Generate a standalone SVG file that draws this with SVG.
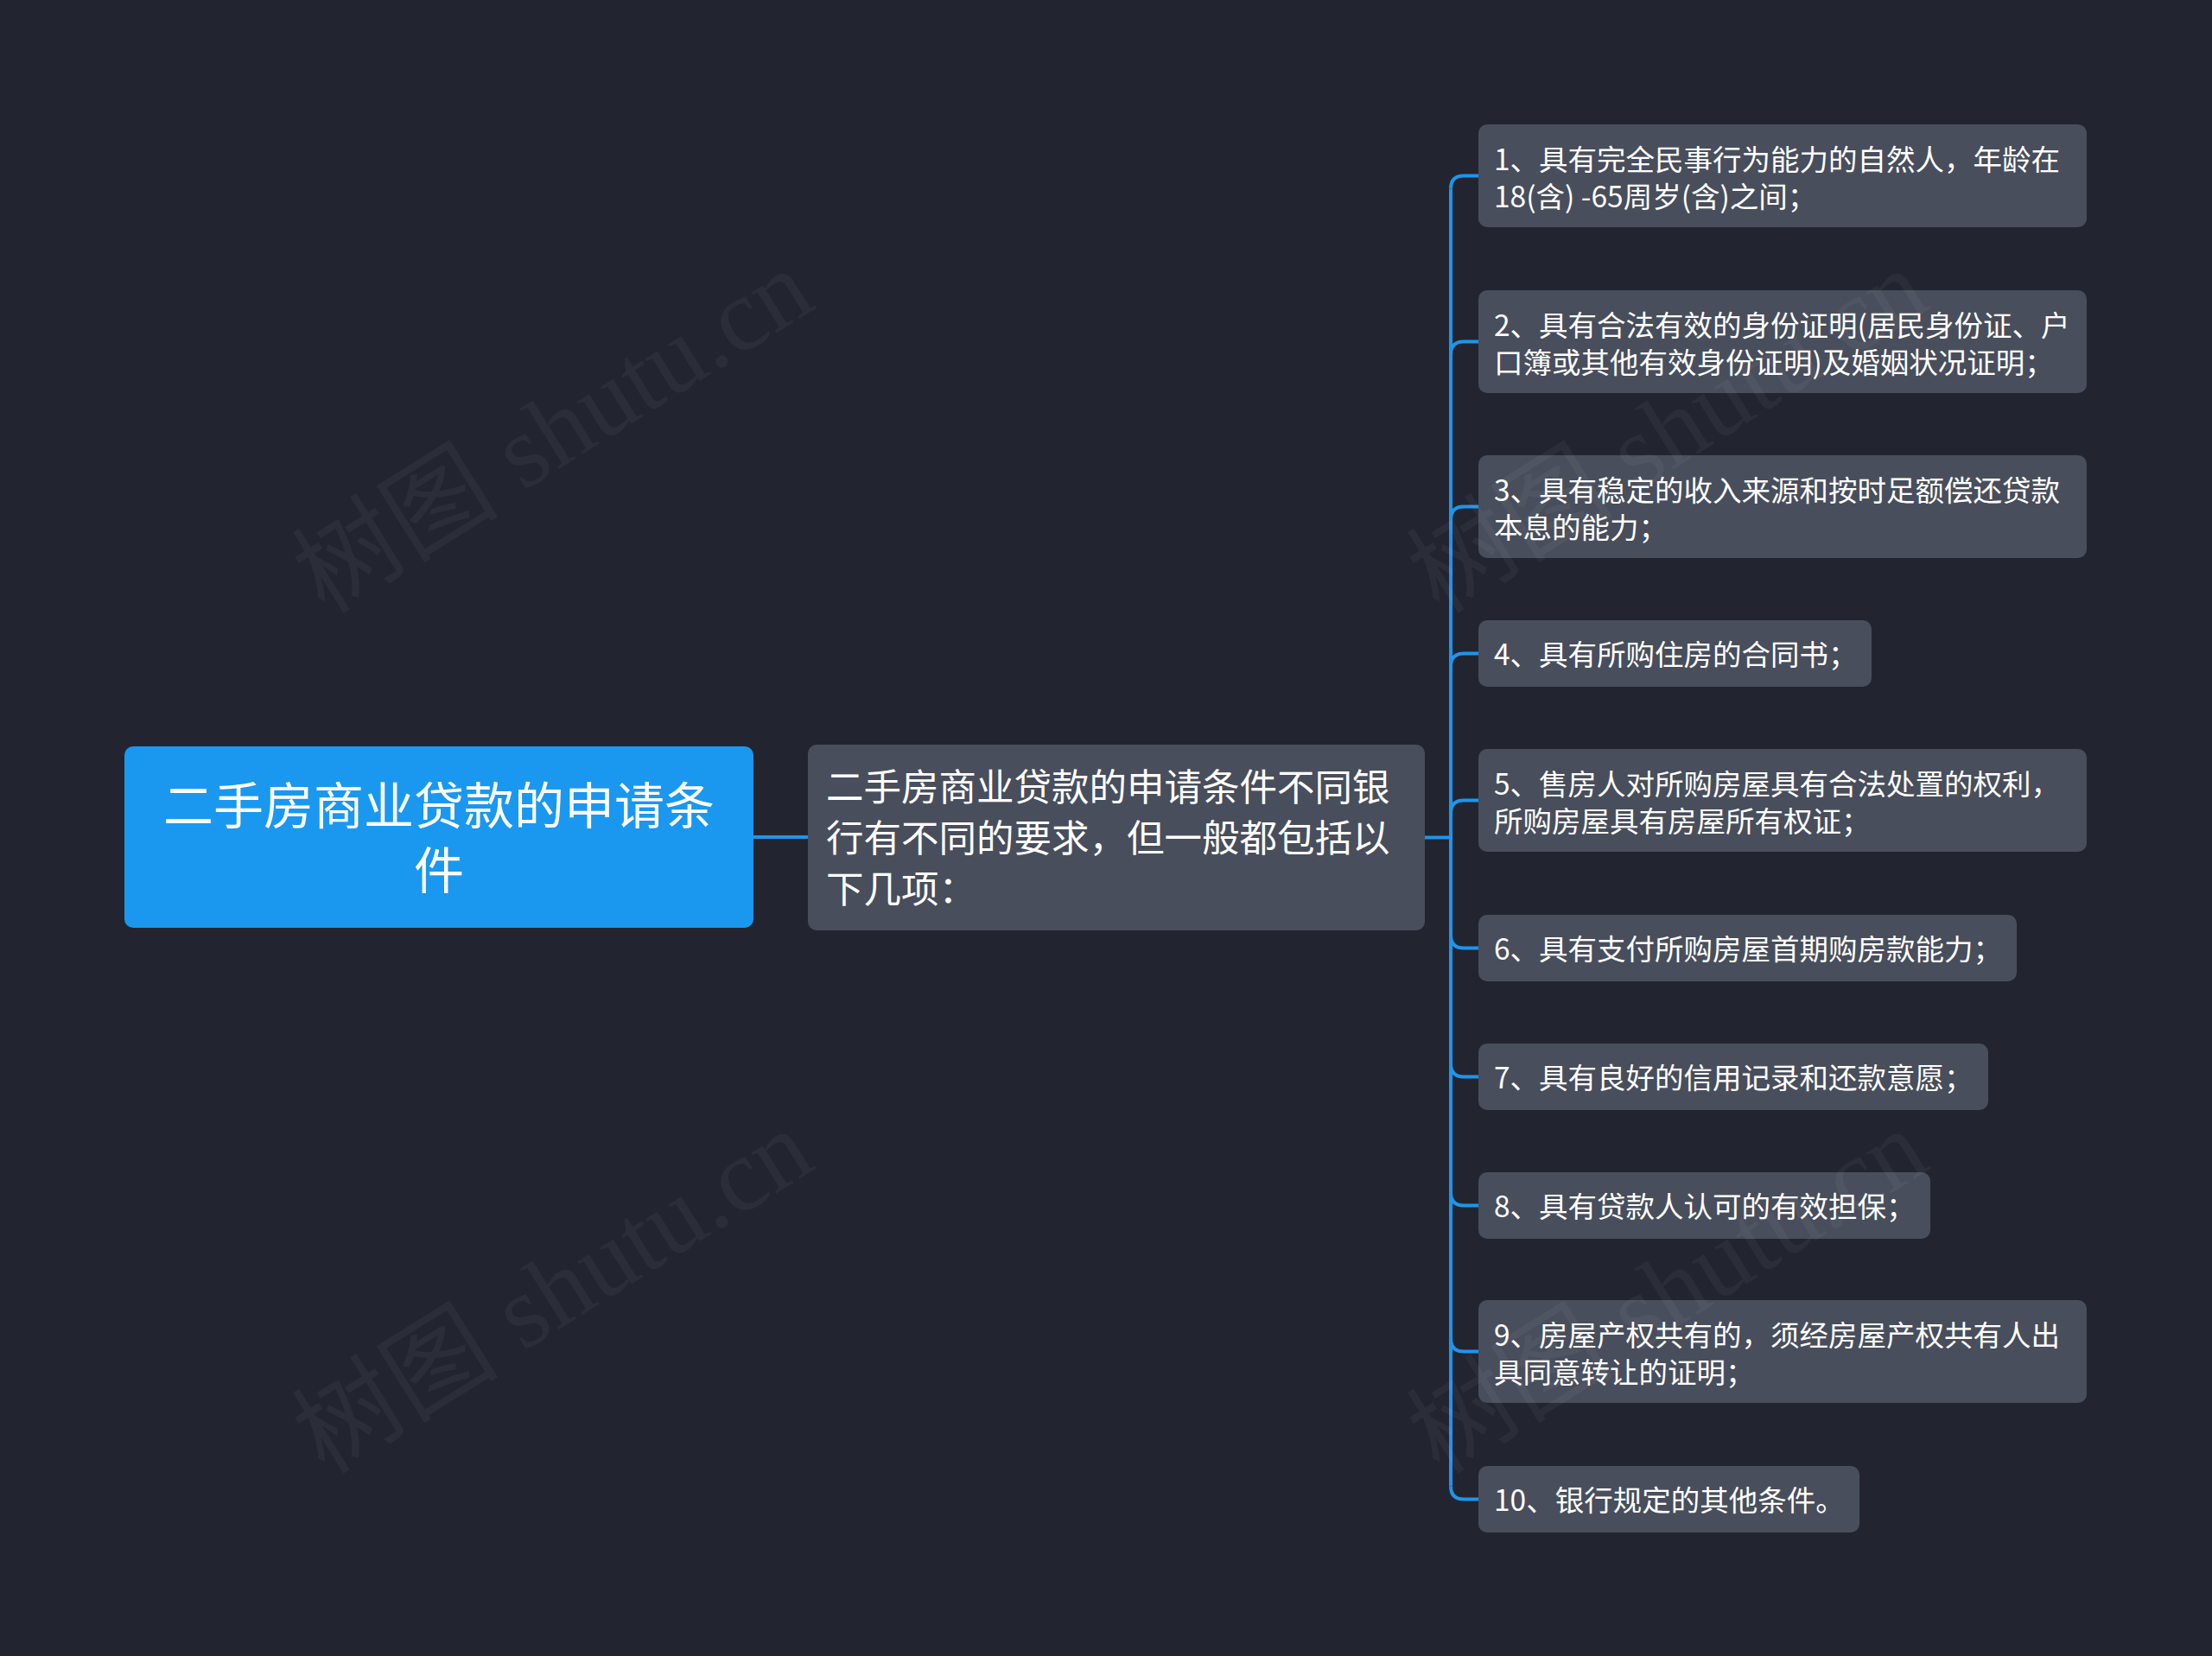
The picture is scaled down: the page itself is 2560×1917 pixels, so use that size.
<svg xmlns="http://www.w3.org/2000/svg" width="2560" height="1917" viewBox="0 0 2560 1917">
<style>
.bg{fill:#222530}
.root{fill:#1a98ef}
.sub{fill:#484e5c}
.t{font-family:"Noto Sans CJK SC","Noto Sans",sans-serif;fill:#ffffff}
.rt{font-size:58px;text-anchor:middle}
.mt{font-size:43.5px}
.lt{font-size:33.5px}
.ln{fill:none;stroke:#1f95eb;stroke-width:4}
.wm{font-family:"Liberation Serif","Noto Sans CJK SC",serif;font-size:120px;fill:#ffffff;fill-opacity:0.045}
</style>
<rect class="bg" x="0" y="0" width="2560" height="1917"/>
<g id="connectors">
<path class="ln" d="M872,969 H935"/>
<path class="ln" d="M1649,969.5 H1679"/>
<path class="ln" d="M1679,218.5 V1720.5"/>
<path class="ln" d="M1679,218.5 Q1679,203.5 1694,203.5 H1711"/>
<path class="ln" d="M1679,410.5 Q1679,395.5 1694,395.5 H1711"/>
<path class="ln" d="M1679,601.5 Q1679,586.5 1694,586.5 H1711"/>
<path class="ln" d="M1679,771.5 Q1679,756.5 1694,756.5 H1711"/>
<path class="ln" d="M1679,941.5 Q1679,926.5 1694,926.5 H1711"/>
<path class="ln" d="M1679,1082.5 Q1679,1097.5 1694,1097.5 H1711"/>
<path class="ln" d="M1679,1231.5 Q1679,1246.5 1694,1246.5 H1711"/>
<path class="ln" d="M1679,1380.5 Q1679,1395.5 1694,1395.5 H1711"/>
<path class="ln" d="M1679,1549.5 Q1679,1564.5 1694,1564.5 H1711"/>
<path class="ln" d="M1679,1720.5 Q1679,1735.5 1694,1735.5 H1711"/>
</g>
<g id="root">
<rect class="root" x="144" y="864" width="728" height="210" rx="10"/>
<text class="t rt" x="508" y="953.5">二手房商业贷款的申请条</text>
<text class="t rt" x="508" y="1028.5">件</text>
</g>
<g id="middle">
<rect class="sub" x="935" y="862" width="714" height="215" rx="10"/>
<text class="t mt" x="956" y="927">二手房商业贷款的申请条件不同银</text>
<text class="t mt" x="956" y="986">行有不同的要求，但一般都包括以</text>
<text class="t mt" x="956" y="1045">下几项：</text>
</g>
<g id="leaf1">
<rect class="sub" x="1711" y="144" width="704" height="119" rx="10"/>
<text class="t lt" x="1729" y="197">1、具有完全民事行为能力的自然人，年龄在</text>
<text class="t lt" x="1729" y="240">18(含) -65周岁(含)之间；</text>
</g>
<g id="leaf2">
<rect class="sub" x="1711" y="336" width="704" height="119" rx="10"/>
<text class="t lt" x="1729" y="389">2、具有合法有效的身份证明(居民身份证、户</text>
<text class="t lt" x="1729" y="432">口簿或其他有效身份证明)及婚姻状况证明；</text>
</g>
<g id="leaf3">
<rect class="sub" x="1711" y="527" width="704" height="119" rx="10"/>
<text class="t lt" x="1729" y="580">3、具有稳定的收入来源和按时足额偿还贷款</text>
<text class="t lt" x="1729" y="623">本息的能力；</text>
</g>
<g id="leaf4">
<rect class="sub" x="1711" y="718" width="455" height="77" rx="10"/>
<text class="t lt" x="1729" y="769.5">4、具有所购住房的合同书；</text>
</g>
<g id="leaf5">
<rect class="sub" x="1711" y="867" width="704" height="119" rx="10"/>
<text class="t lt" x="1729" y="920">5、售房人对所购房屋具有合法处置的权利，</text>
<text class="t lt" x="1729" y="963">所购房屋具有房屋所有权证；</text>
</g>
<g id="leaf6">
<rect class="sub" x="1711" y="1059" width="623" height="77" rx="10"/>
<text class="t lt" x="1729" y="1110.5">6、具有支付所购房屋首期购房款能力；</text>
</g>
<g id="leaf7">
<rect class="sub" x="1711" y="1208" width="590" height="77" rx="10"/>
<text class="t lt" x="1729" y="1259.5">7、具有良好的信用记录和还款意愿；</text>
</g>
<g id="leaf8">
<rect class="sub" x="1711" y="1357" width="523" height="77" rx="10"/>
<text class="t lt" x="1729" y="1408.5">8、具有贷款人认可的有效担保；</text>
</g>
<g id="leaf9">
<rect class="sub" x="1711" y="1505" width="704" height="119" rx="10"/>
<text class="t lt" x="1729" y="1558">9、房屋产权共有的，须经房屋产权共有人出</text>
<text class="t lt" x="1729" y="1601">具同意转让的证明；</text>
</g>
<g id="leaf10">
<rect class="sub" x="1711" y="1697" width="441" height="77" rx="10"/>
<text class="t lt" x="1729" y="1748.5">10、银行规定的其他条件。</text>
</g>
<g id="watermarks">
<text class="wm" transform="translate(376,712) rotate(-32)">树图 shutu.cn</text>
<text class="wm" transform="translate(376,1708) rotate(-32)">树图 shutu.cn</text>
<text class="wm" transform="translate(1666,712) rotate(-32)">树图 shutu.cn</text>
<text class="wm" transform="translate(1666,1708) rotate(-32)">树图 shutu.cn</text>
</g>
</svg>
